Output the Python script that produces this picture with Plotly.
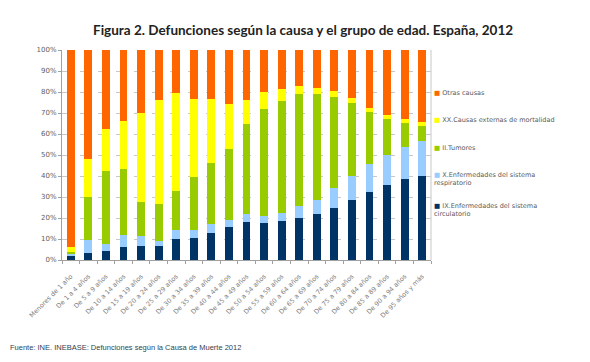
import plotly.graph_objects as go

categorias = ["Menores de 1 año", "De 1 a 4 años", "De 5 a 9 años", "De 10 a 14 años",
              "De 15 a 19 años", "De 20 a 24 años", "De 25 a 29 años", "De 30 a 34 años",
              "De 35 a 39 años", "De 40 a 44 años", "De 45 a 49 años", "De 50 a 54 años",
              "De 55 a 59 años", "De 60 a 64 años", "De 65 a 69 años", "De 70 a 74 años",
              "De 75 a 79 años", "De 80 a 84 años", "De 85 a 89 años", "De 90 a 94 años",
              "De 95 años y más"]

circulatorio = [1.9, 3.5, 4.4, 6.0, 6.5, 6.5, 10.0, 10.6, 12.9, 15.7, 18.3, 17.5, 18.6,
                20.0, 21.7, 24.9, 28.6, 32.4, 35.7, 38.4, 40.0]
respiratorio = [1.1, 6.0, 3.1, 5.9, 4.9, 2.5, 4.1, 3.7, 4.4, 3.5, 3.6, 3.5, 3.9,
                5.9, 6.9, 9.5, 11.6, 13.2, 14.3, 15.4, 16.7]
tumores = [0.8, 20.7, 34.9, 31.6, 16.1, 17.7, 18.9, 25.1, 28.9, 33.8, 42.7, 50.9, 53.2,
           53.0, 50.4, 43.4, 34.4, 25.0, 17.1, 11.6, 7.1]
externas = [2.2, 17.7, 20.0, 22.7, 42.7, 49.5, 46.5, 37.4, 30.5, 21.1, 11.4, 7.9, 5.6,
            3.8, 3.1, 2.8, 2.4, 1.9, 1.9, 1.9, 2.1]
otras = [94.0, 52.1, 37.6, 33.8, 29.8, 23.8, 20.5, 23.2, 23.3, 25.9, 24.0, 20.2, 18.7,
         17.3, 17.9, 19.4, 23.0, 27.5, 31.0, 32.7, 34.1]

series = [
    ("IX.Enfermedades del sistema<br>circulatorio", circulatorio, "#003366"),
    ("X.Enfermedades del sistema<br>respiratorio", respiratorio, "#99CCFF"),
    ("II.Tumores", tumores, "#99CC00"),
    ("XX.Causas externas de mortalidad", externas, "#FFFF00"),
    ("Otras causas", otras, "#FF6600"),
]

fig = go.Figure()
for name, vals, col in series:
    fig.add_trace(go.Bar(x=categorias, y=vals, name=name.replace("<br>", " "),
                         marker_color=col, marker_line_width=0, showlegend=False))

# page has an 8px body margin, so the figure is 582x354 and offset by 8px
fig.update_layout(
    width=582, height=354,
    barmode="stack", barnorm="percent", bargap=0.56,
    paper_bgcolor="white", plot_bgcolor="white",
    margin=dict(l=54, r=159, t=42, b=102, autoexpand=False),
    showlegend=False,
    title=dict(text="<b>Figura 2. Defunciones según la causa y el grupo de edad. España, 2012</b>",
               x=0.507, xanchor="center", y=0.938, yanchor="middle",
               font=dict(family="Lato", size=13.5, color="#222222")),
    font=dict(family="DejaVu Sans", size=7, color="#595959"),
)
fig.update_yaxes(range=[0, 100], dtick=10, ticksuffix="%", automargin=False,
                 showgrid=True, gridcolor="#C8C8C8", griddash="dash", gridwidth=1,
                 showline=True, linecolor="#A0A0A0", ticks="outside", ticklen=3,
                 tickcolor="#A0A0A0", zeroline=False,
                 tickfont=dict(family="DejaVu Sans", size=7, color="#606060"))
fig.update_xaxes(tickangle=-45, showline=True, linecolor="#A0A0A0", automargin=False,
                 ticks="outside", ticklen=3, tickcolor="#A0A0A0",
                 tickson="boundaries", ticklabelstandoff=9,
                 tickfont=dict(family="DejaVu Sans", size=6.5, color="#808080"))
fig.add_shape(type="line", xref="paper", yref="paper", x0=1, x1=1, y0=0, y1=1,
              line=dict(color="#C8C8C8", width=1))

# legend drawn as annotations (top to bottom: reversed stacking order)
leg_y = [0.824, 0.695, 0.562, 0.433, 0.286]
for (name, vals, col), yy in zip(series[::-1], leg_y):
    fig.add_annotation(text=f"<span style='color:{col}'>■</span> {name}",
                       xref="paper", yref="paper", x=1.003, y=yy,
                       xanchor="left", yanchor="top", align="left", showarrow=False,
                       font=dict(family="DejaVu Sans", size=6.5, color="#595959"))

fig.add_annotation(text="Fuente: INE. INEBASE: Defunciones según la Causa de Muerte 2012",
                   xref="paper", yref="paper", x=-0.146, y=-0.419,
                   xanchor="left", yanchor="middle", showarrow=False,
                   font=dict(family="Liberation Sans", size=7.5, color="#333F50"))

fig.write_html("out.html")
